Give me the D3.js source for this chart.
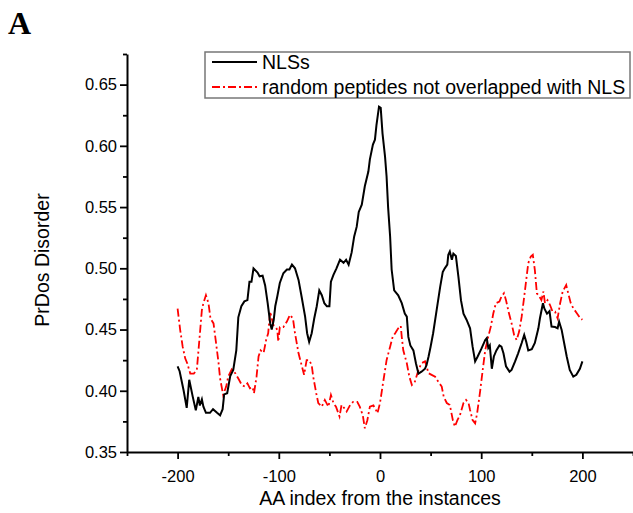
<!DOCTYPE html>
<html><head><meta charset="utf-8">
<script src="https://cdn.jsdelivr.net/npm/d3@7"></script>
<style>body{margin:0;background:#fff}svg{display:block}text{font-family:"Liberation Sans",Arial,sans-serif}</style>
</head><body><svg id="c" width="633" height="513"></svg>
<script>
const nlsX=[-200,-198,-194,-191,-188.5,-185,-182,-179.5,-178,-176,-174.5,-172,-168,-165,-161,-158,-155.5,-154,-151,-148,-145,-142,-140,-137,-134,-131,-129,-127,-125,-121,-119,-116,-113.5,-111,-108.5,-107,-105,-103.5,-101.5,-99,-95.5,-92,-89.5,-87,-84,-80.5,-77.5,-74,-72,-70,-67.5,-65,-62.5,-60,-57.5,-55,-52.5,-50,-48.5,-46,-43,-39.5,-36,-33.5,-31,-28,-25.5,-23,-21,-18,-15,-11.5,-10,-7,-5,-3.5,-1,0.7,2.5,5,6.5,8,10,11.5,14,18,21.5,24.5,26.5,28,30,33,35.5,38,41,44.5,46,48,50,52.5,56,59.5,62,64,66.5,67.5,69,71,72.5,75,77.5,80,82.5,85.5,89,91.5,94,96.5,100,104,105.5,107,108.5,110.5,112.5,115,118,120,122,124.5,128,130,133.5,136.5,140,142.5,144.5,146.5,150,153,156.5,158,161,162.5,165,167.5,169.5,173,175.5,177,179.5,182,184.5,187.5,191,194,197.5,200];
const nlsY=[0.420,0.416,0.400,0.386,0.409,0.395,0.384,0.395,0.388,0.393,0.387,0.382,0.382,0.385,0.382,0.380,0.385,0.397,0.398,0.412,0.417,0.433,0.460,0.469,0.473,0.474,0.489,0.489,0.500,0.4965,0.4935,0.494,0.486,0.4715,0.455,0.450,0.458,0.469,0.477,0.488,0.496,0.499,0.499,0.503,0.500,0.4905,0.477,0.4605,0.447,0.440,0.447,0.459,0.469,0.482,0.478,0.4715,0.469,0.469,0.489,0.4946,0.500,0.507,0.5045,0.507,0.503,0.513,0.526,0.534,0.546,0.552,0.567,0.579,0.589,0.601,0.605,0.617,0.632,0.631,0.610,0.591,0.575,0.550,0.526,0.499,0.482,0.478,0.4715,0.463,0.4605,0.444,0.437,0.433,0.4225,0.414,0.4156,0.418,0.421,0.428,0.436,0.447,0.466,0.485,0.497,0.500,0.503,0.511,0.5137,0.507,0.512,0.510,0.493,0.474,0.463,0.458,0.451,0.436,0.424,0.428,0.434,0.4415,0.443,0.435,0.437,0.418,0.428,0.433,0.437,0.436,0.4306,0.420,0.4156,0.417,0.424,0.4306,0.439,0.4456,0.440,0.433,0.434,0.439,0.451,0.459,0.4715,0.467,0.463,0.465,0.4524,0.452,0.451,0.4565,0.4497,0.4388,0.428,0.417,0.4115,0.413,0.418,0.424];
const randX=[-200,-197.5,-195,-192.5,-190.5,-187.5,-184,-181,-178.5,-176,-174.5,-172,-169.5,-167.5,-164.5,-162,-159.5,-158,-156.5,-155,-152,-150,-146.5,-143,-140,-136.5,-133.5,-131,-128.5,-126,-124.5,-122,-120,-118,-115,-112.5,-110.5,-108.5,-105.5,-103,-101.5,-100.5,-99,-95.5,-92,-89,-86,-84,-80.5,-77.5,-75,-72.5,-70,-67.5,-66,-63,-61,-57.5,-54.5,-51,-48.5,-46,-43.5,-40,-38,-35.5,-33,-29.5,-26.5,-22.5,-20,-17,-15,-12.5,-10,-6.5,-4,-2.5,0,3.5,6.5,10,12.5,15,18,20.5,21.5,23,26.5,29,31.5,34.5,38,41,44.5,48,51,54.5,57.5,61,63,66,69,72,74,76.5,79,82.5,85,87.5,89,91.5,94,96,99,101.5,104,107,109.5,112,114.5,118,120,122.5,124.5,127,130,132.5,135,137.5,140,142.5,144.5,146.5,149,151,153,155,157.5,159.5,161.5,163,165.5,168,170.5,173,175.5,178,180.5,184,186,188.5,191,194.5,198,200];
const randY=[0.467,0.450,0.436,0.4265,0.4225,0.414,0.414,0.417,0.4415,0.466,0.4715,0.478,0.4715,0.459,0.455,0.439,0.4225,0.410,0.4034,0.3966,0.4034,0.4115,0.4175,0.4143,0.410,0.4047,0.4034,0.406,0.402,0.403,0.398,0.4115,0.428,0.433,0.431,0.4415,0.447,0.4646,0.4538,0.452,0.4497,0.440,0.452,0.452,0.4565,0.462,0.459,0.447,0.4306,0.421,0.413,0.425,0.425,0.421,0.4115,0.398,0.390,0.387,0.3925,0.387,0.3966,0.390,0.387,0.379,0.3884,0.386,0.383,0.3884,0.391,0.391,0.387,0.380,0.3694,0.376,0.387,0.388,0.3843,0.3816,0.390,0.409,0.425,0.436,0.444,0.447,0.451,0.453,0.444,0.433,0.4225,0.4115,0.4047,0.4075,0.417,0.4225,0.424,0.4143,0.413,0.4115,0.4075,0.4034,0.395,0.390,0.3884,0.376,0.3707,0.376,0.380,0.390,0.3925,0.390,0.3843,0.376,0.3734,0.3816,0.400,0.417,0.4333,0.4442,0.4524,0.4633,0.4715,0.4728,0.4769,0.4796,0.474,0.4646,0.4551,0.4456,0.4415,0.4483,0.4605,0.4769,0.4905,0.5042,0.5096,0.511,0.4987,0.4796,0.4769,0.474,0.481,0.4715,0.474,0.470,0.4646,0.4646,0.4592,0.4715,0.481,0.4864,0.4796,0.4715,0.4674,0.4633,0.4592,0.458];
const xMajor=[-200,-100,0,100,200];
const xMinor=[-250,-150,-50,50,150,250];
const yMajor=[0.35,0.40,0.45,0.50,0.55,0.60,0.65];
const yMinor=[0.375,0.425,0.475,0.525,0.575,0.625,0.675];
const seriesNames=["NLSs","random peptides not overlapped with NLS"];

const svg=d3.select("#c");
const x=d3.scaleLinear().domain([-250,250]).range([127,633]);
const y=d3.scaleLinear().domain([0.35,0.675]).range([452,54]);

// curves
const line=d3.line().x(d=>x(d[0])).y(d=>y(d[1]));
svg.append("path").datum(randX.map((v,i)=>[v,randY[i]]))
  .attr("d",line).attr("fill","none").attr("stroke","#ff0000").attr("stroke-width",1.8)
  .attr("stroke-dasharray","8,3,2,3");
svg.append("path").datum(nlsX.map((v,i)=>[v,nlsY[i]]))
  .attr("d",line).attr("fill","none").attr("stroke","#000").attr("stroke-width",2);

// axes
const ax=svg.append("g").attr("transform","translate(0,452)");
ax.append("g").call(d3.axisBottom(x).tickValues(xMajor).tickSize(7).tickSizeOuter(0).tickFormat(d3.format("d")))
  .call(g=>{g.select(".domain").attr("stroke-width",2);g.selectAll(".tick line").attr("stroke-width",1.8);
    g.selectAll("text").attr("font-size",16.5).attr("dy","1.2em").attr("fill","#000")
     .text(d=>d<0?"-"+Math.abs(d):d);});
ax.append("g").call(d3.axisBottom(x).tickValues(xMinor).tickSize(4).tickSizeOuter(0).tickFormat(""))
  .call(g=>{g.select(".domain").remove();g.selectAll(".tick line").attr("stroke-width",1.8);});
const ay=svg.append("g").attr("transform","translate(127,0)");
ay.append("g").call(d3.axisLeft(y).tickValues(yMajor).tickSize(7).tickSizeOuter(0).tickFormat(d3.format(".2f")))
  .call(g=>{g.select(".domain").attr("stroke-width",2);g.selectAll(".tick line").attr("stroke-width",1.8);
    g.selectAll("text").attr("font-size",16.5).attr("x",-10).attr("fill","#000");});
ay.append("g").call(d3.axisLeft(y).tickValues(yMinor).tickSize(4).tickSizeOuter(0).tickFormat(""))
  .call(g=>{g.select(".domain").remove();g.selectAll(".tick line").attr("stroke-width",1.8);});

// titles
svg.append("text").attr("x",380).attr("y",505).attr("text-anchor","middle").attr("font-size",19.5).text("AA index from the instances");
svg.append("text").attr("transform","translate(49,260) rotate(-90)").attr("text-anchor","middle").attr("font-size",19.5).text("PrDos Disorder");
svg.append("text").attr("x",8).attr("y",34).style("font-family","'Liberation Serif','Times New Roman',serif").style("font-weight","bold").attr("font-size",32).text("A");

// legend
const lg=svg.append("g");
lg.append("rect").attr("x",205).attr("y",52).attr("width",425).attr("height",46).attr("fill","#fff").attr("stroke","#777").attr("stroke-width",1.5);
lg.append("line").attr("x1",212).attr("x2",257).attr("y1",62).attr("y2",62).attr("stroke","#000").attr("stroke-width",2);
lg.append("line").attr("x1",212).attr("x2",257).attr("y1",87).attr("y2",87).attr("stroke","#ff0000").attr("stroke-width",1.8).attr("stroke-dasharray","8,3,2,3");
lg.append("text").attr("x",262).attr("y",69).attr("font-size",19.5).text(seriesNames[0]);
lg.append("text").attr("x",262).attr("y",94).attr("font-size",19.5).text(seriesNames[1]);
</script></body></html>
